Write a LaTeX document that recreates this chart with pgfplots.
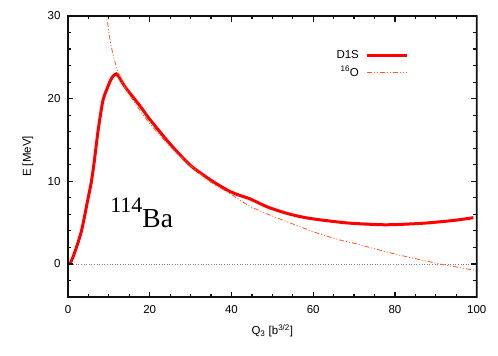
\documentclass[border=0pt]{standalone}
\usepackage{fontspec}
\setmainfont{Liberation Sans}
\newfontfamily\seriffont{Liberation Serif}
\usepackage{pgfplots}
\pgfplotsset{compat=1.18}
\definecolor{dones}{HTML}{FF0000}
\definecolor{oxy}{HTML}{FF5A1E}
\definecolor{ink}{HTML}{101010}

\begin{document}
\begin{tikzpicture}
\begin{axis}[
  scale only axis, width=408.7pt, height=281pt,
  xmin=0, xmax=100, ymin=-4, ymax=30,
  xtick={0,20,...,100}, ytick={0,10,20,30},
  minor x tick num=3, minor y tick num=4,
  tick style={draw=none},
  axis line style={draw=none},
  clip mode=individual,
  tick label style={font=\fontsize{11.5}{13}\selectfont},
  xticklabel style={yshift=-5pt},
  yticklabel style={xshift=-4pt},
  /pgf/number format/assume math mode=true,
  label style={font=\fontsize{11.5}{13}\selectfont},
  xlabel={Q\textsubscript{3} [b\textsuperscript{3/2}]},
  ylabel={E [MeV]},
  xlabel style={at={(axis description cs:0.5,-0.121)}, anchor=center},
  ylabel style={at={(axis description cs:-0.098,0.5)}, anchor=center},
  legend plot pos=right,
  legend cell align=right,
  legend image code/.code={\draw[#1] (0pt,0pt) -- (40pt,0pt);},
  legend style={draw=none, fill=none, at={(axis description cs:0.842,0.893)},
    anchor=north east, font=\fontsize{11.5}{13}\selectfont,
    row sep=2.5pt, column sep=5pt},
]
% zero line
\addplot[gray, dotted, line width=0.6pt, forget plot] coordinates {(0,0) (100,0)};

% D1S
\addplot[dones, line width=3pt, smooth, tension=0.5] coordinates {
(0.5,0) (1.2,0.8) (2.0,1.9) (3.25,3.9) (4.1,5.9) (4.9,7.9) (5.7,9.9) (6.3,11.9)
(6.8,13.9) (7.3,15.9) (7.9,17.9) (8.6,19.9) (9.4,21.0) (10.3,22.1) (11.0,22.7)
(11.8,23.0) (12.5,22.6) (14,21.4) (15.9,20.2) (17.8,19.0) (20,17.5) (25,14.5)
(29.8,12.0) (33,10.8) (36,9.8) (39.5,8.8) (42,8.3) (44.4,7.9) (47,7.3)
(49.3,6.8) (53,6.2) (56.6,5.75) (60,5.45) (66.5,5.05) (70,4.9) (76.3,4.75)
(80,4.76) (86.1,4.9) (90,5.05) (95,5.3) (99.2,5.6)
};
\addlegendentry{D1S}

% 16O
\addplot[oxy, line width=0.8pt, smooth, tension=0.4,
  dash pattern=on 5pt off 2pt on 1pt off 2pt on 1pt off 2pt] coordinates {
(9.2,30.8) (9.5,29.8) (10.5,26.5) (12,23.6) (14,21.3) (17,19.0) (20,17.0)
(25,14.2) (30,11.9) (34.6,10.0) (40,8.4) (44.4,7.0) (50,5.8) (60,3.9)
(66.5,2.9) (70,2.5) (80,1.2) (91,0) (100,-0.8)
};
\addlegendentry{\textsuperscript{16}O}

% frame as a filled ring, ticks as small filled bars (gnuplot style, inward)
\fill[ink, even odd rule]
  (rel axis cs:0,0) ++(-0.8pt,-0.8pt) rectangle ++(410.3pt,282.6pt)
  (rel axis cs:0,0) ++(0.8pt,0.8pt) rectangle ++(407.1pt,279.4pt);
\pgfplotsinvokeforeach{20,40,60,80}{
  \fill[ink] (axis cs:#1,-4) ++(-0.6pt,0pt) rectangle ++(1.2pt,5.5pt);
  \fill[ink] (axis cs:#1,30) ++(-0.6pt,0pt) rectangle ++(1.2pt,-5.5pt);}
\pgfplotsinvokeforeach{5,10,15,25,30,35,45,50,55,65,70,75,85,90,95}{
  \fill[ink] (axis cs:#1,-4) ++(-0.6pt,0pt) rectangle ++(1.2pt,3.3pt);
  \fill[ink] (axis cs:#1,30) ++(-0.6pt,0pt) rectangle ++(1.2pt,-3.3pt);}
\pgfplotsinvokeforeach{0,10,20}{
  \fill[ink] (axis cs:0,#1) ++(0pt,-0.6pt) rectangle ++(5.5pt,1.2pt);
  \fill[ink] (axis cs:100,#1) ++(0pt,-0.6pt) rectangle ++(-5.5pt,1.2pt);}
\pgfplotsinvokeforeach{-2,2,4,6,8,12,14,16,18,22,24,26,28}{
  \fill[ink] (axis cs:0,#1) ++(0pt,-0.6pt) rectangle ++(3.3pt,1.2pt);
  \fill[ink] (axis cs:100,#1) ++(0pt,-0.6pt) rectangle ++(-3.3pt,1.2pt);}

\node[anchor=base west, inner sep=0pt] at (axis cs:10.3,4.42)
  {\seriffont{\fontsize{22}{22}\selectfont\raisebox{15pt}{114}}\fontsize{27.5}{28}\selectfont Ba};
\end{axis}
\path (-68pt,-59pt) rectangle (430pt,297pt);
\end{tikzpicture}
\end{document}
